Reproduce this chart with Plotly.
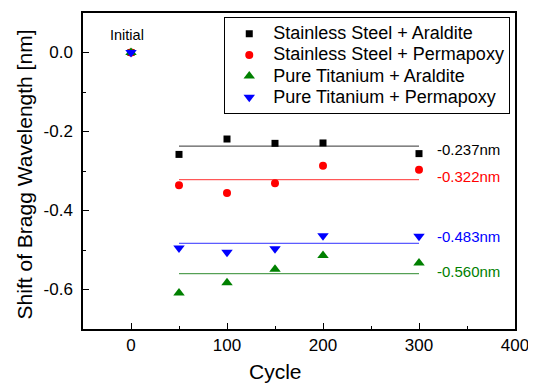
import plotly.graph_objects as go

# ---- data ----
cycles = [0, 50, 100, 150, 200, 300]
ss_araldite = [0.0, -0.258, -0.219, -0.230, -0.229, -0.256]
ss_permapoxy = [0.0, -0.336, -0.356, -0.331, -0.287, -0.297]
ti_araldite = [0.0, -0.609, -0.583, -0.549, -0.514, -0.533]
ti_permapoxy = [0.0, -0.495, -0.506, -0.497, -0.464, -0.465]
series_names = ["Stainless Steel + Araldite", "Stainless Steel + Permapoxy",
                "Pure Titanium + Araldite", "Pure Titanium + Permapoxy"]
mean_values = [-0.237, -0.322, -0.560, -0.483]
mean_labels = ["-0.237nm", "-0.322nm", "-0.560nm", "-0.483nm"]
mean_span = [50, 300]
x_ticks = [0, 100, 200, 300, 400]
y_ticks = [0.0, -0.2, -0.4, -0.6]

FONT = "Arial, Liberation Sans, sans-serif"
colors = ["#000000", "#ff0000", "#008000", "#0000ff"]
line_colors = ["#333333", "#ff3030", "#2e8b2e", "#3030ff"]
symbols = ["square", "circle", "triangle-up", "triangle-down"]
sizes = [7, 8, 10, 10]
label_yshift = [-3, 3, 2.5, 7]

fig = go.Figure()
all_series = [ss_araldite, ss_permapoxy, ti_araldite, ti_permapoxy]

# mean lines
for i, m in enumerate(mean_values):
    fig.add_trace(go.Scatter(x=mean_span, y=[m, m], mode="lines",
                             line=dict(color=line_colors[i], width=1),
                             showlegend=False, hoverinfo="skip"))

for i, ys in enumerate(all_series):
    fig.add_trace(go.Scatter(x=cycles, y=ys, mode="markers",
                             name=f"<span style='font-size:18px'>{series_names[i]}</span>",
                             marker=dict(symbol=symbols[i], size=sizes[i], color=colors[i],
                                         line=dict(width=0))))

for i, m in enumerate(mean_values):
    fig.add_annotation(x=317, y=m, text=mean_labels[i], showarrow=False,
                       xanchor="left", yanchor="middle", yshift=label_yshift[i],
                       font=dict(family=FONT, size=15, color=colors[i]))

fig.add_annotation(x=0, y=0, text="Initial", showarrow=False, xanchor="center",
                   yanchor="middle", yshift=18, xshift=-4.5,
                   font=dict(family=FONT, size=14.5, color="#000000"))

# axis titles
fig.add_annotation(xref="paper", yref="paper", x=0.446, y=-0.136, text="Cycle",
                   showarrow=False, xanchor="center", yanchor="middle",
                   font=dict(family=FONT, size=21, color="#000000"))
fig.add_annotation(xref="paper", yref="paper", x=-0.136, y=0.49,
                   text="Shift of Bragg Wavelength [nm]", textangle=-90,
                   showarrow=False, xanchor="center", yanchor="middle",
                   font=dict(family=FONT, size=21, color="#000000"))

axis_common = dict(showgrid=False, zeroline=False, showline=True, linecolor="black",
                   linewidth=1.5, mirror=True, ticks="inside", ticklen=6,
                   tickwidth=1.3, tickcolor="black", automargin=False,
                   tickfont=dict(family=FONT, size=17, color="#000000"))

# page body adds an 8px offset; figure is sized so the plot lands where the reference has it
fig.update_layout(
    width=528, height=377,
    margin=dict(l=75, r=21, t=5, b=56),
    paper_bgcolor="white", plot_bgcolor="white",
    font=dict(family=FONT, color="#000000"),
    xaxis=dict(range=[-50, 400], tickvals=x_ticks, ticktext=[str(v) for v in x_ticks],
               minor=dict(ticks="inside", ticklen=3.5, dtick=50, tick0=0, tickcolor="black"),
               ticklabelstandoff=0,
               **axis_common),
    yaxis=dict(range=[-0.7, 0.1], tickvals=y_ticks, ticktext=[f"{v:.1f}" for v in y_ticks],
               minor=dict(ticks="inside", ticklen=3.5, dtick=0.1, tick0=0, tickcolor="black"),
               ticklabelstandoff=5,
               **axis_common),
    legend=dict(x=0.327, y=0.987, xanchor="left", yanchor="top",
                bordercolor="black", borderwidth=1, bgcolor="white",
                font=dict(family=FONT, size=14, color="#000000"),
                itemwidth=38,
                tracegroupgap=0, itemsizing="trace"),
)

fig.write_html("out.html")
